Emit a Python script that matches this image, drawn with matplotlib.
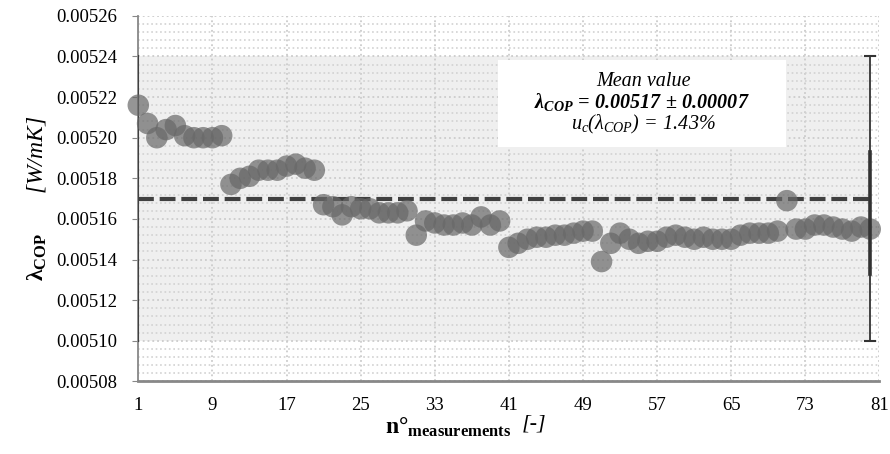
import matplotlib
matplotlib.use('Agg')
import matplotlib.pyplot as plt
from matplotlib.ticker import MultipleLocator

plt.rcParams['font.family'] = 'Liberation Serif'
plt.rcParams['mathtext.fontset'] = 'custom'
# plain math text in italic (the labels use italic units and digits)
plt.rcParams['mathtext.rm'] = 'Liberation Serif:italic'
plt.rcParams['mathtext.it'] = 'Liberation Serif:italic'
plt.rcParams['mathtext.bf'] = 'Liberation Serif:bold'
plt.rcParams['mathtext.bfit'] = 'Liberation Serif:bold:italic'

# measured thermal conductivity, one value per measurement
lambda_cop = [
    0.005216, 0.005207, 0.005200, 0.005204, 0.005206, 0.005201, 0.005200, 0.005200, 0.005200, 0.005201,
    0.005177, 0.005180, 0.005181, 0.005184, 0.005184, 0.005184, 0.005186, 0.005187, 0.005185, 0.005184,
    0.005167, 0.005166, 0.005162, 0.005166, 0.005165, 0.005165, 0.005163, 0.005163, 0.005163, 0.005164,
    0.005152, 0.005159, 0.005158, 0.005157, 0.005157, 0.005158, 0.005157, 0.005161, 0.005157, 0.005159,
    0.005146, 0.005148, 0.005150, 0.005151, 0.005151, 0.005152, 0.005152, 0.005153, 0.005154, 0.005154,
    0.005139, 0.005148, 0.005153, 0.005150, 0.005148, 0.005149, 0.005149, 0.005151, 0.005152, 0.005151,
    0.005150, 0.005151, 0.005150, 0.005150, 0.005150, 0.005152, 0.005153, 0.005153, 0.005153, 0.005154,
    0.005169, 0.005155, 0.005155, 0.005157, 0.005157, 0.005156, 0.005155, 0.005154, 0.005156, 0.005155,
]
n_meas = list(range(1, len(lambda_cop) + 1))

mean_value = 0.00517
uncertainty = 0.00007
inner_low, inner_high = 0.005133, 0.005193

x_ticks = [1, 9, 17, 25, 33, 41, 49, 57, 65, 73, 81]
y_ticks = [0.00508, 0.00510, 0.00512, 0.00514, 0.00516, 0.00518, 0.00520, 0.00522, 0.00524, 0.00526]

fig = plt.figure(figsize=(8.9, 4.54), dpi=100)
ax = fig.add_axes([0.1554, 0.160, 0.8328, 0.805])

x_last = n_meas[-1]

# uncertainty band
ax.fill_between([1, x_last], mean_value - uncertainty, mean_value + uncertainty,
                color='#efefef', lw=0, zorder=0)
ax.plot([1, 1], [mean_value - uncertainty, mean_value + uncertainty], color='#404040', lw=1.5, zorder=3)

# mean line
ax.plot([1, x_last], [mean_value, mean_value], color='#404040', lw=3,
        linestyle=(0, (3.8, 1.4)), zorder=2)

# points
ax.scatter(n_meas, lambda_cop, s=240, color='#686868', alpha=0.7, edgecolors='none',
           zorder=4, clip_on=False)

# error bars at the last measurement
ax.errorbar([x_last], [mean_value], yerr=[[uncertainty], [uncertainty]], fmt='none',
            ecolor='#333333', elinewidth=1.3, capsize=4, capthick=1.5, zorder=5)
ax.plot([x_last, x_last], [inner_low, inner_high], color='#333333', lw=2.6, zorder=5)


def fx(px):
    return px / 890


def fy(py):
    return 1 - py / 454


# text box with the mean value
fig.patches.append(plt.Rectangle((fx(498), fy(147)), fx(786) - fx(498), fy(60) - fy(147),
                                 transform=fig.transFigure, facecolor='white', edgecolor='none',
                                 zorder=1))
fig.text(fx(643), fy(81), 'Mean value', ha='center', va='center', fontsize=14.5,
         style='italic', zorder=3)
fig.text(fx(642), fy(102), r'$\mathbfit{\lambda_{COP}\,=\,0.00517\,\pm\,0.00007}$',
         ha='center', va='center', fontsize=14.5, zorder=3)
fig.text(fx(643), fy(124), r'$u_c(\lambda_{COP})\,=\,1.43\%$',
         ha='center', va='center', fontsize=14.5, zorder=3)

ax.set_xlim(1, 81)
ax.set_ylim(0.00508, 0.00526)
ax.set_xticks(x_ticks)
ax.set_yticks(y_ticks)
ax.set_yticklabels([f'{v:.5f}' for v in y_ticks])
ax.yaxis.set_minor_locator(MultipleLocator(0.000004))

ax.grid(True, which='major', color='#cccccc', linestyle=':', lw=1.3)
ax.grid(True, which='minor', axis='y', color='#d2d2d2', linestyle=':', lw=1.2)
ax.set_axisbelow(True)

for s in ['top', 'right']:
    ax.spines[s].set_visible(False)
ax.spines['left'].set_color('#888888')
ax.spines['bottom'].set_color('#888888')
ax.spines['bottom'].set_linewidth(2)
ax.spines['left'].set_linewidth(1.3)

ax.tick_params(axis='y', which='major', length=4, color='#888888', labelsize=13.5, pad=11)
ax.tick_params(axis='y', which='minor', length=0)
ax.tick_params(axis='x', length=0, labelsize=13.5, pad=11)

ax.set_ylabel(r'$\mathbf{\lambda_{COP}}\ \ \ \ \ \ \ [W/mK]$', fontsize=17, labelpad=6)
fig.text(fx(448), fy(427), r'$\mathbf{n°_{measurements}}$', ha='center', va='center', fontsize=17)
fig.text(fx(534), fy(424), '[-]', ha='center', va='center', fontsize=16, style='italic')

fig.savefig('out.png', dpi=100)
